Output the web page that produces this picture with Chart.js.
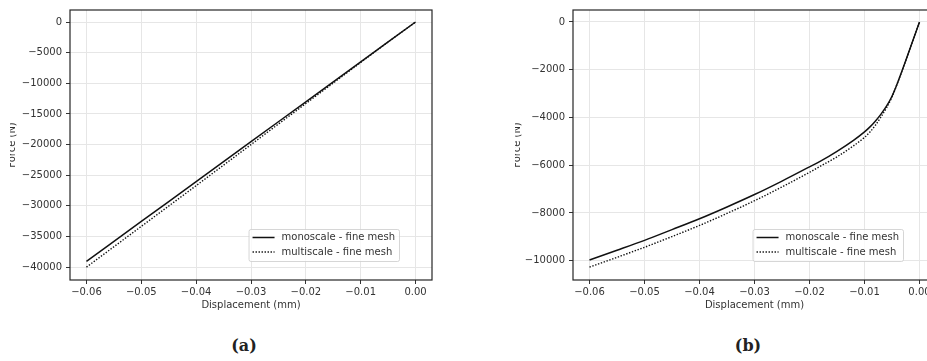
<!DOCTYPE html>
<html>
<head>
<meta charset="utf-8">
<script src="https://cdn.jsdelivr.net/npm/chart.js@4.4.1/dist/chart.umd.min.js"></script>
<style>
html, body { margin: 0; padding: 0; background: #fff; overflow: hidden; width: 927px; height: 361px; }
.panel { position: absolute; top: 0; height: 320px; overflow: hidden; }
#panelA { left: 10px; width: 450px; }
#panelB { left: 515px; width: 412px; }
.panel canvas { position: absolute; top: 0; left: -10px; }
.caption { position: absolute; top: 336px; font: bold 16px "DejaVu Serif", serif; color: #222; transform: translateX(-50%); }
</style>
</head>
<body>
<div class="panel" id="panelA"><canvas id="chartA" width="460" height="320"></canvas></div>
<div class="panel" id="panelB"><canvas id="chartB" width="431" height="320"></canvas></div>
<div class="caption" style="left:244px">(a)</div>
<div class="caption" style="left:748px">(b)</div>
<script>
// --- Data ---
const seriesLabels = ["monoscale - fine mesh", "multiscale - fine mesh"];

// (a) elastic case
const dispA = [-0.06, -0.05, -0.04, -0.03, -0.02, -0.01, -0.005, 0];
const monoA = [-39060, -32550, -26040, -19530, -13020, -6510, -3255, 0];
const multiA = [-40000, -33350, -26700, -20000, -13300, -6600, -3260, 0];

// (b) plastic case
const dispB = [-0.06, -0.055, -0.05, -0.045, -0.04, -0.035, -0.03, -0.025, -0.02, -0.018, -0.015, -0.012, -0.01, -0.009, -0.008, -0.007, -0.006, -0.005, -0.004, 0];
const monoB = [-9970, -9565, -9150, -8700, -8245, -7750, -7230, -6665, -6070, -5830, -5420, -4960, -4605, -4395, -4145, -3860, -3530, -3115, -2560, 0];
const multiB = [-10270, -9860, -9440, -8990, -8525, -8020, -7490, -6910, -6300, -6040, -5650, -5190, -4835, -4610, -4320, -3980, -3600, -3140, -2560, 0];

const xTicks = [-0.06, -0.05, -0.04, -0.03, -0.02, -0.01, 0];
const yTicksA = [-40000, -35000, -30000, -25000, -20000, -15000, -10000, -5000, 0];
const yTicksB = [-10000, -8000, -6000, -4000, -2000, 0];

const FONT = '"DejaVu Sans", sans-serif';
const TEXT = '#333';

function minus(s) { return String(s).replace('-', '\u2212'); }

function pts(xs, ys) { return xs.map((x, i) => ({ x: x, y: ys[i] })); }

// --- Plugins: box frame and legend inside the axes ---
const framePlugin = {
    id: 'frame',
    afterDraw(chart) {
        const a = chart.chartArea, ctx = chart.ctx;
        ctx.save();
        ctx.strokeStyle = '#262626';
        ctx.lineWidth = 1.2;
        ctx.strokeRect(a.left, a.top, a.right - a.left, a.bottom - a.top);
        ctx.restore();
    }
};

const legendPlugin = {
    id: 'insideLegend',
    afterDraw(chart) {
        const a = chart.chartArea, ctx = chart.ctx;
        ctx.save();
        ctx.font = '10px ' + FONT;
        const sets = chart.data.datasets;
        const textW = Math.max(...sets.map(d => ctx.measureText(d.label).width));
        const w = 4 + 22 + 7 + textW + 4, h = 32;
        const x = a.right - 33 - w, y = a.bottom - 19 - h;
        ctx.globalAlpha = 0.8;
        ctx.fillStyle = '#fff';
        ctx.strokeStyle = '#cccccc';
        ctx.lineWidth = 1;
        ctx.beginPath();
        ctx.roundRect(x + 0.5, y + 0.5, w, h, 2);
        ctx.fill();
        ctx.stroke();
        ctx.globalAlpha = 1;
        sets.forEach((d, i) => {
            const cy = y + 8.5 + i * 14.5;
            ctx.strokeStyle = d.borderColor;
            ctx.lineWidth = d.borderWidth;
            ctx.setLineDash(d.borderDash || []);
            ctx.beginPath();
            ctx.moveTo(x + 4, cy);
            ctx.lineTo(x + 26, cy);
            ctx.stroke();
            ctx.setLineDash([]);
            ctx.fillStyle = TEXT;
            ctx.textBaseline = 'middle';
            ctx.fillText(d.label, x + 33, cy);
        });
        ctx.restore();
    }
};

function makeChart(id, xs, mono, multi, yMin, yMax, yTicks, axisW, padRight) {
    return new Chart(document.getElementById(id).getContext('2d'), {
        type: 'line',
        data: {
            datasets: [{
                label: seriesLabels[0],
                data: pts(xs, mono),
                borderColor: '#111',
                borderWidth: 1.5,
                pointRadius: 0,
                cubicInterpolationMode: 'monotone'
            }, {
                label: seriesLabels[1],
                data: pts(xs, multi),
                borderColor: '#111',
                borderWidth: 1.4,
                borderDash: [1.4, 1.6],
                pointRadius: 0,
                cubicInterpolationMode: 'monotone'
            }]
        },
        options: {
            responsive: false,
            animation: false,
            layout: { padding: { top: 10, left: 0, right: padRight, bottom: 0 } },
            plugins: { legend: { display: false }, tooltip: { enabled: false } },
            scales: {
                x: {
                    type: 'linear',
                    min: -0.063, max: 0.003,
                    afterBuildTicks: s => { s.ticks = xTicks.map(v => ({ value: v })); },
                    afterFit: s => { s.height = 40; },
                    grid: { color: '#e6e6e6', tickColor: '#333', tickLength: 4 },
                    border: { display: false },
                    ticks: {
                        padding: 2, color: TEXT, font: { family: FONT, size: 10 },
                        maxRotation: 0,
                        callback: v => Math.abs(v) < 1e-9 ? '0.00' : minus(v.toFixed(2))
                    },
                    title: {
                        display: true, text: 'Displacement (mm)', color: TEXT,
                        font: { family: FONT, size: 10 }, padding: { top: 0, bottom: 9 }
                    }
                },
                y: {
                    min: yMin, max: yMax,
                    afterBuildTicks: s => { s.ticks = yTicks.map(v => ({ value: v })); },
                    afterFit: s => { s.width = axisW; },
                    grid: { color: '#e6e6e6', tickColor: '#333', tickLength: 4 },
                    border: { display: false },
                    ticks: {
                        padding: 4, color: TEXT,
                        font: { family: FONT, size: 10 },
                        callback: v => minus(v)
                    },
                    title: {
                        display: true, text: 'Force (N)', color: TEXT,
                        font: { family: FONT, size: 10 }, padding: { top: 6.5, bottom: 0 }
                    }
                }
            }
        },
        plugins: [framePlugin, legendPlugin]
    });
}

makeChart('chartA', dispA, monoA, multiA, -42100, 1960, yTicksA, 70, 28);
makeChart('chartB', dispB, monoB, multiB, -10810, 500, yTicksB, 68, 0);
</script>
</body>
</html>
